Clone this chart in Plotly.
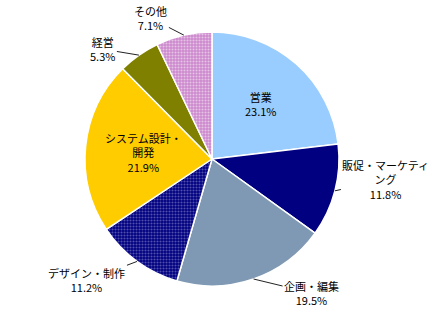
import math
import plotly.graph_objects as go

labels = ["営業", "販促・マーケティング", "企画・編集", "デザイン・制作", "システム設計・開発", "経営", "その他"]
values = [23.1, 11.8, 19.5, 11.2, 21.9, 5.3, 7.1]
label_text = ["営業", "販促・マーケティ<br>ング", "企画・編集", "デザイン・制作", "システム設計・<br>開発", "経営", "その他"]

colors = ["#99CCFF", "#000080", "#7F99B4", "#000080", "#FFCC00", "#808000", "#CC88CC"]
shapes = ["", "", "", ".", "", "", "."]
fgcolors = ["#000000", "#000000", "#000000", "#A0A0D8", "#000000", "#000000", "#FFFFFF"]

W, H = 433, 310
cx, cy, R = 212, 159, 127

fig = go.Figure(go.Pie(
    labels=labels, values=values, sort=False, direction="clockwise", rotation=0,
    textinfo="none", hoverinfo="label+percent",
    marker=dict(colors=colors, line=dict(color="#FFFFFF", width=1.5),
                pattern=dict(shape=shapes, fgcolor=fgcolors, size=3, solidity=0.4,
                             fillmode="overlay")),
    domain=dict(x=[(cx - R) / W, (cx + R) / W], y=[1 - (cy + R) / H, 1 - (cy - R) / H]),
    showlegend=False,
))

# label placement: (inside?, radial fraction, offset px) per slice
place = [
    ("in", 0.58, 0, 0),
    ("out", None, 51, -11),
    ("out", None, 58, 14),
    ("out", None, -50, 19),
    ("in", 0.54, 0, 0),
    ("out", None, -36, -6),
    ("out", None, -33, -17),
]

total = sum(values)
cum = 0
annotations = []
for lab, v, p in zip(label_text, values, place):
    mid = (cum + v / 2) / total * 2 * math.pi
    cum += v
    text = f"{lab}<br>{v}%"
    kind, rf, ax, ay = p
    if kind == "in":
        px = cx + R * rf * math.sin(mid)
        py = cy - R * rf * math.cos(mid)
        annotations.append(dict(x=px / W, y=1 - py / H, xref="paper", yref="paper",
                                xanchor="center", yanchor="middle",
                                text=text, showarrow=False))
    else:
        px = cx + R * math.sin(mid)
        py = cy - R * math.cos(mid)
        annotations.append(dict(x=px / W, y=1 - py / H, xref="paper", yref="paper",
                                text=text, showarrow=True, arrowhead=0, arrowwidth=1,
                                arrowcolor="#222222", ax=ax, ay=ay, standoff=0))

fig.update_layout(
    width=W, height=H, margin=dict(l=0, r=0, t=0, b=0),
    paper_bgcolor="#FFFFFF", plot_bgcolor="#FFFFFF",
    font=dict(family="Noto Sans CJK JP", size=11, color="#000000"),
    annotations=annotations,
)
fig.write_html("out.html")
